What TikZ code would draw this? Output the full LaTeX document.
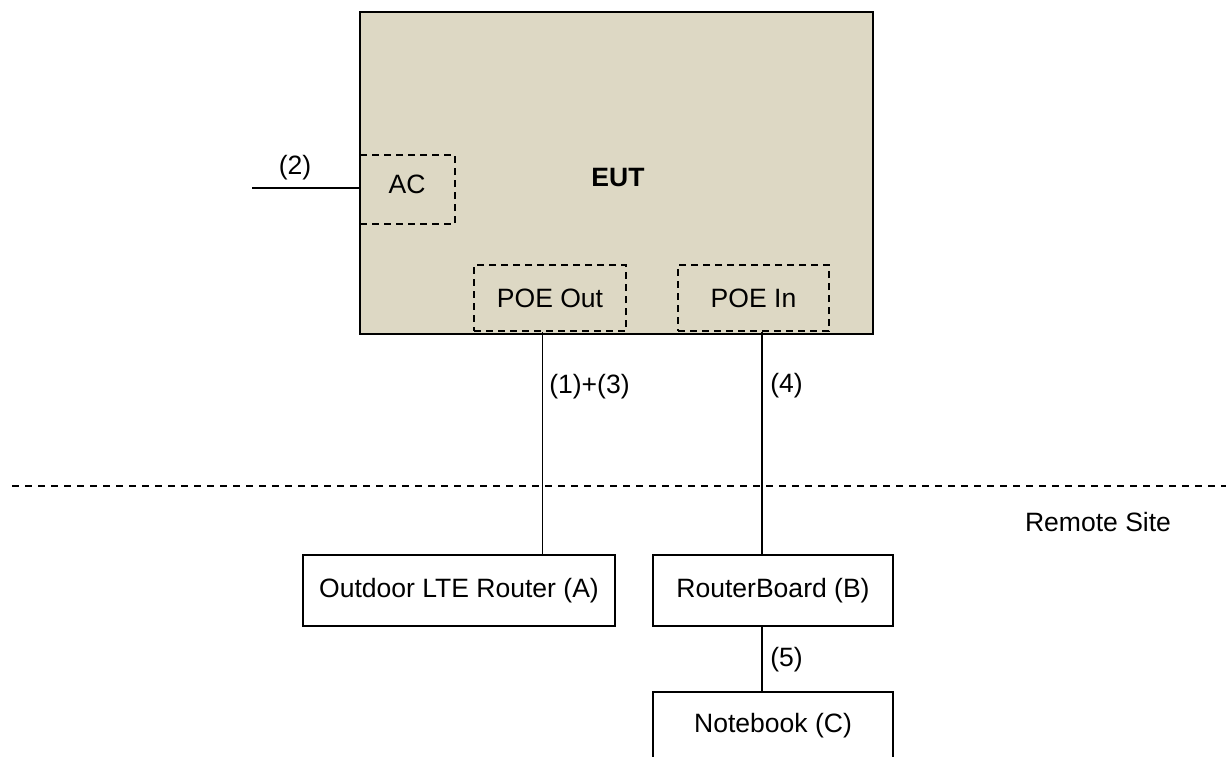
\documentclass[tikz,border=0pt]{standalone}
\usepackage{fontspec}
\setmainfont{Liberation Sans}
\usetikzlibrary{calc}
\definecolor{eutfill}{RGB}{221,216,196}
\tikzset{
  lbl/.style={font=\fontsize{19.9}{24}\selectfont, inner sep=0pt},
  box/.style={draw=black, line width=1.5pt, rectangle, inner sep=0pt, font=\fontsize{19.9}{24}\selectfont},
  dbox/.style={draw=black, line width=1.5pt, rectangle, inner sep=0pt, dash pattern=on 5.5pt off 3.5pt, font=\fontsize{19.9}{24}\selectfont},
  wire/.style={draw=black, line width=0.8pt},
}
\begin{document}
\begin{tikzpicture}[x=0.75pt,y=-0.75pt]
\useasboundingbox (0,0) rectangle (1226,756);
% EUT
\node[box, fill=eutfill, minimum width=384.75pt, minimum height=241.5pt] (eut) at (616.5,173) {};
\node[lbl, font=\fontsize{19.9}{24}\selectfont\bfseries] (eutlbl) at (618,178) {EUT};
\node[dbox, minimum width=71.25pt, minimum height=51.75pt] (ac) at (407.5,189.5) {};
\node[lbl] (aclbl) at (407,184) {AC};
\node[dbox, minimum width=114pt, minimum height=49.5pt] (poeout) at (550,298) {POE Out};
\node[dbox, minimum width=113.25pt, minimum height=49.5pt] (poein) at (753.5,298) {POE In};
% remote devices
\node[box, fill=white, minimum width=234pt, minimum height=53.25pt] (lte) at (459,590.5) {Outdoor LTE Router (A)};
\node[box, fill=white, minimum width=180pt, minimum height=53.25pt] (rb) at (773,590.5) {RouterBoard (B)};
\node[box, fill=white, minimum width=180pt, minimum height=51pt] (nb) at (773,726) {Notebook (C)};
% AC feed
\coordinate (acin) at (252,188);
\draw[wire] (acin) -- (acin -| ac.west);
\node[lbl] (l2) at (295,168) {(2)};
% connections
\coordinate (p1) at ($(poeout.south)+(-7.5,0)$);
\coordinate (p2) at ($(poein.south)+(8.5,0)$);
\coordinate (p3) at ($(rb.south)+(-11,0)$);
\draw[wire] (p1) -- (p1 |- lte.north);
\draw[wire] (p2) -- (p2 |- rb.north);
\draw[wire] (p3) -- (p3 |- nb.north);
\node[lbl, anchor=west] (l13) at (549,387) {(1)+(3)};
\node[lbl, anchor=west] (l4) at (770,386) {(4)};
\node[lbl, anchor=west] (l5) at (770,660) {(5)};
% remote boundary
\coordinate (bl) at (12,486);
\coordinate (br) at (1226,486);
\draw[black, line width=1.3pt, dash pattern=on 5.25pt off 4.5pt] (bl) -- (br);
\node[lbl] (remote) at (1098,522) {Remote Site};
\end{tikzpicture}
\end{document}
